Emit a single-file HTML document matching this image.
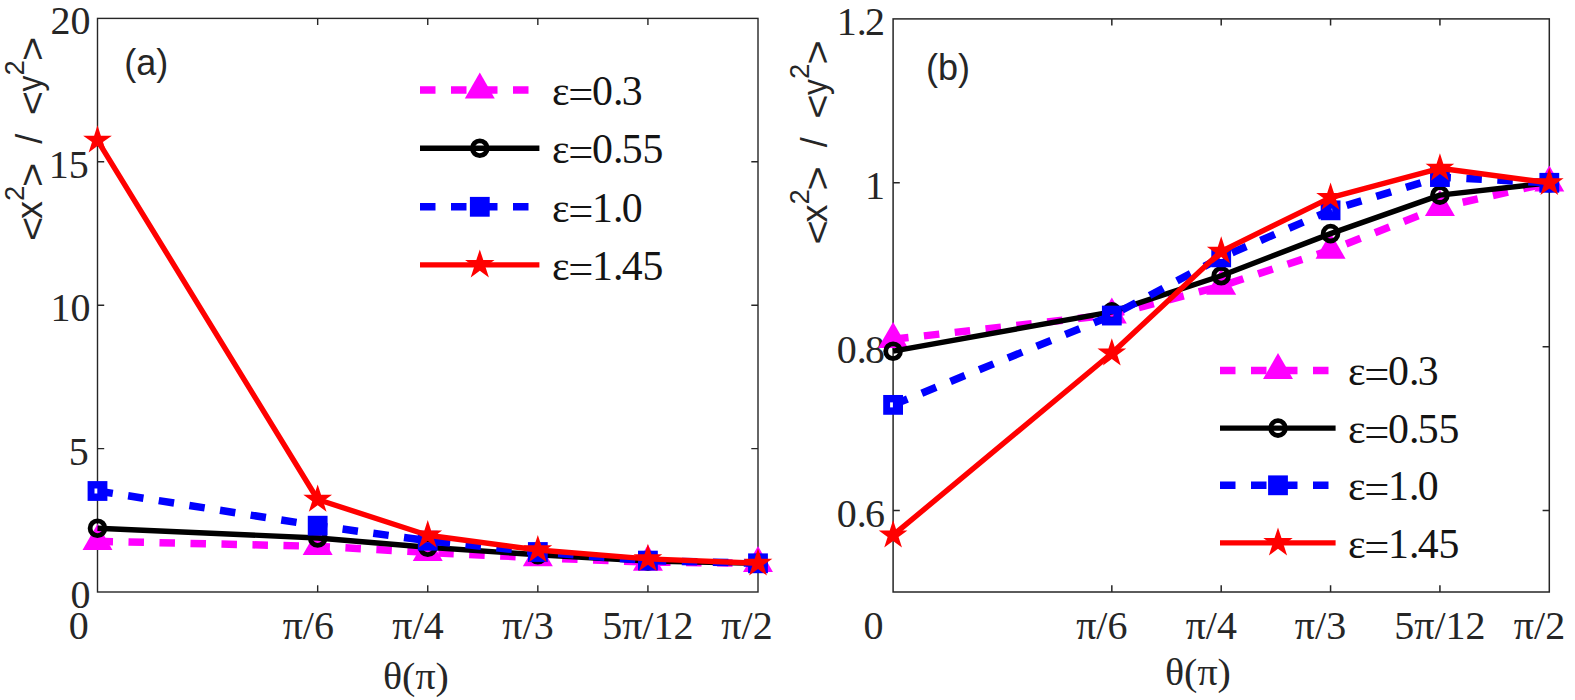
<!DOCTYPE html>
<html lang="en"><head><meta charset="utf-8"><title>Figure</title>
<style>html,body{margin:0;padding:0;background:#fff}svg{display:block}</style></head><body>
<svg width="1575" height="700" viewBox="0 0 1575 700">
<rect width="1575" height="700" fill="#ffffff"/>
<rect x="97.5" y="18.4" width="660.5" height="573.6" fill="none" stroke="#262626" stroke-width="1.4"/>
<path d="M317.67 592.0v-6.7M317.67 18.4v6.7" stroke="#262626" stroke-width="1.4" fill="none"/>
<path d="M427.75 592.0v-6.7M427.75 18.4v6.7" stroke="#262626" stroke-width="1.4" fill="none"/>
<path d="M537.83 592.0v-6.7M537.83 18.4v6.7" stroke="#262626" stroke-width="1.4" fill="none"/>
<path d="M647.92 592.0v-6.7M647.92 18.4v6.7" stroke="#262626" stroke-width="1.4" fill="none"/>
<path d="M97.5 448.60h6.7M758.0 448.60h-6.7" stroke="#262626" stroke-width="1.4" fill="none"/>
<path d="M97.5 305.20h6.7M758.0 305.20h-6.7" stroke="#262626" stroke-width="1.4" fill="none"/>
<path d="M97.5 161.80h6.7M758.0 161.80h-6.7" stroke="#262626" stroke-width="1.4" fill="none"/>
<text transform="translate(90.4,607.9) scale(1,1.02)" font-size="40" font-family="'Liberation Serif', serif" text-anchor="end" fill="#262626" >0</text>
<text transform="translate(88.8,464.5) scale(1,1.02)" font-size="40" font-family="'Liberation Serif', serif" text-anchor="end" fill="#262626" >5</text>
<text transform="translate(90.4,321.1) scale(1,1.02)" font-size="40" font-family="'Liberation Serif', serif" text-anchor="end" fill="#262626" >10</text>
<text transform="translate(88.8,177.7) scale(1,1.02)" font-size="40" font-family="'Liberation Serif', serif" text-anchor="end" fill="#262626" >15</text>
<text transform="translate(90.4,34.3) scale(1,1.02)" font-size="40" font-family="'Liberation Serif', serif" text-anchor="end" fill="#262626" >20</text>
<text transform="translate(78.8,638.7) scale(1,1.02)" font-size="40" font-family="'Liberation Serif', serif" text-anchor="middle" fill="#262626" >0</text>
<text transform="translate(308.3,638.7) scale(1,1.02)" font-size="40" font-family="'Liberation Serif', serif" text-anchor="middle" fill="#262626" >π/6</text>
<text transform="translate(418.0,638.7) scale(1,1.02)" font-size="40" font-family="'Liberation Serif', serif" text-anchor="middle" fill="#262626" >π/4</text>
<text transform="translate(528.0,638.7) scale(1,1.02)" font-size="40" font-family="'Liberation Serif', serif" text-anchor="middle" fill="#262626" >π/3</text>
<text transform="translate(647.8,638.7) scale(1,1.02)" font-size="40" font-family="'Liberation Serif', serif" text-anchor="middle" fill="#262626" >5π/12</text>
<text transform="translate(747.0,638.7) scale(1,1.02)" font-size="40" font-family="'Liberation Serif', serif" text-anchor="middle" fill="#262626" >π/2</text>
<text transform="translate(415.9,688.6) scale(1,0.97)" font-size="40" font-family="'Liberation Serif', serif" text-anchor="middle" fill="#262626" >θ(π)</text>
<text x="124.3" y="75" font-size="36" font-family="'Liberation Sans', sans-serif" text-anchor="start" fill="#262626" >(a)</text>
<g transform="translate(42.3,139.6) rotate(-90)" font-size="36" font-family="'Liberation Sans', sans-serif" fill="#262626">
<text transform="translate(-89.4,2.9) scale(1.15,1.05)" text-anchor="middle">&lt;</text>
<text x="-79.33" y="0">x</text>
<text x="-61.33" y="-18" font-size="27.5">2</text>
<text transform="translate(-35.4,2.9) scale(1.15,1.05)" text-anchor="middle">&gt;</text>
<text x="-4.15" y="0">/</text>
<text transform="translate(36.5,2.9) scale(1.15,1.05)" text-anchor="middle">&lt;</text>
<text transform="translate(48.1,0) scale(0.886,1)">y</text>
<text x="64.01" y="-18" font-size="27.5">2</text>
<text transform="translate(90.7,2.9) scale(1.15,1.05)" text-anchor="middle">&gt;</text>
</g>
<g>
<polyline points="97.50,541.30 317.67,546.30 427.75,552.40 537.83,557.70 647.92,562.10 758.00,563.30" fill="none" stroke="#ff00ff" stroke-width="7.5" stroke-dasharray="15.5 15.5" stroke-linejoin="round"/>
<polygon points="97.50,524.00 112.48,549.95 82.52,549.95" fill="#ff00ff"/>
<polygon points="317.67,529.00 332.65,554.95 302.68,554.95" fill="#ff00ff"/>
<polygon points="427.75,535.10 442.73,561.05 412.77,561.05" fill="#ff00ff"/>
<polygon points="537.83,540.40 552.82,566.35 522.85,566.35" fill="#ff00ff"/>
<polygon points="647.92,544.80 662.90,570.75 632.93,570.75" fill="#ff00ff"/>
<polygon points="758.00,546.00 772.98,571.95 743.02,571.95" fill="#ff00ff"/>
<polyline points="97.50,528.20 317.67,538.00 427.75,547.30 537.83,554.80 647.92,561.00 758.00,563.30" fill="none" stroke="#000000" stroke-width="5.4" stroke-linejoin="round"/>
<circle cx="97.50" cy="528.20" r="7.4" fill="none" stroke="#000000" stroke-width="4.8"/>
<circle cx="317.67" cy="538.00" r="7.4" fill="none" stroke="#000000" stroke-width="4.8"/>
<circle cx="427.75" cy="547.30" r="7.4" fill="none" stroke="#000000" stroke-width="4.8"/>
<circle cx="537.83" cy="554.80" r="7.4" fill="none" stroke="#000000" stroke-width="4.8"/>
<circle cx="647.92" cy="561.00" r="7.4" fill="none" stroke="#000000" stroke-width="4.8"/>
<circle cx="758.00" cy="563.30" r="7.4" fill="none" stroke="#000000" stroke-width="4.8"/>
<polyline points="97.50,491.00 317.67,525.70 427.75,540.70 537.83,552.00 647.92,560.60 758.00,563.30" fill="none" stroke="#0000ff" stroke-width="7.5" stroke-dasharray="15.5 15.5" stroke-linejoin="round"/>
<rect x="87.60" y="481.10" width="19.8" height="19.8" fill="#0000ff"/><rect x="94.50" y="488.50" width="2.8" height="5" fill="#fff"/>
<rect x="311.92" y="519.95" width="11.50" height="11.50" fill="none" stroke="#0000ff" stroke-width="8.3"/>
<rect x="422.00" y="534.95" width="11.50" height="11.50" fill="none" stroke="#0000ff" stroke-width="8.3"/>
<rect x="532.08" y="546.25" width="11.50" height="11.50" fill="none" stroke="#0000ff" stroke-width="8.3"/>
<rect x="642.17" y="554.85" width="11.50" height="11.50" fill="none" stroke="#0000ff" stroke-width="8.3"/>
<rect x="752.25" y="557.55" width="11.50" height="11.50" fill="none" stroke="#0000ff" stroke-width="8.3"/>
<polyline points="97.50,140.30 317.67,499.50 427.75,535.20 537.83,550.00 647.92,558.90 758.00,563.30" fill="none" stroke="#ff0000" stroke-width="5.4" stroke-linejoin="round"/>
<polygon points="97.50,125.20 100.89,135.63 111.86,135.63 102.99,142.08 106.38,152.52 97.50,146.07 88.62,152.52 92.01,142.08 83.14,135.63 94.11,135.63" fill="#ff0000"/>
<polygon points="317.67,484.40 321.06,494.83 332.03,494.83 323.15,501.28 326.54,511.72 317.67,505.27 308.79,511.72 312.18,501.28 303.31,494.83 314.28,494.83" fill="#ff0000"/>
<polygon points="427.75,520.10 431.14,530.53 442.11,530.53 433.24,536.98 436.63,547.42 427.75,540.97 418.87,547.42 422.26,536.98 413.39,530.53 424.36,530.53" fill="#ff0000"/>
<polygon points="537.83,534.90 541.22,545.33 552.19,545.33 543.32,551.78 546.71,562.22 537.83,555.77 528.96,562.22 532.35,551.78 523.47,545.33 534.44,545.33" fill="#ff0000"/>
<polygon points="647.92,543.80 651.31,554.23 662.28,554.23 653.40,560.68 656.79,571.12 647.92,564.67 639.04,571.12 642.43,560.68 633.56,554.23 644.53,554.23" fill="#ff0000"/>
<polygon points="758.00,548.20 761.39,558.63 772.36,558.63 763.49,565.08 766.88,575.52 758.00,569.07 749.12,575.52 752.51,565.08 743.64,558.63 754.61,558.63" fill="#ff0000"/>
</g>
<path d="M420 89.9H539.4" stroke="#ff00ff" stroke-width="7.5" stroke-dasharray="15.5 15.5"/>
<polygon points="479.80,72.60 494.78,98.55 464.82,98.55" fill="#ff00ff"/>
<text x="552.0" y="104.9" font-size="41.8" font-family="'Liberation Serif', serif" text-anchor="start" fill="#141414" >ε</text>
<text x="568.2" y="107.7" font-size="41.8" font-family="'Liberation Serif', serif" text-anchor="start" fill="#141414" textLength="25.1" lengthAdjust="spacingAndGlyphs">=</text>
<text x="592.1" y="104.9" font-size="41.8" font-family="'Liberation Serif', serif" text-anchor="start" fill="#141414" >0.<tspan dx="-1.8">3</tspan></text>
<path d="M420 148.2H539.4" stroke="#000000" stroke-width="5.4"/>
<circle cx="479.80" cy="148.20" r="7.4" fill="none" stroke="#000000" stroke-width="4.8"/>
<text x="552.0" y="163.2" font-size="41.8" font-family="'Liberation Serif', serif" text-anchor="start" fill="#141414" >ε</text>
<text x="568.2" y="166.0" font-size="41.8" font-family="'Liberation Serif', serif" text-anchor="start" fill="#141414" textLength="25.1" lengthAdjust="spacingAndGlyphs">=</text>
<text x="592.1" y="163.2" font-size="41.8" font-family="'Liberation Serif', serif" text-anchor="start" fill="#141414" >0.<tspan dx="-1.8">55</tspan></text>
<path d="M420 206.8H539.4" stroke="#0000ff" stroke-width="7.5" stroke-dasharray="15.5 15.5"/>
<rect x="469.90" y="196.90" width="19.8" height="19.8" fill="#0000ff"/>
<text x="552.0" y="221.8" font-size="41.8" font-family="'Liberation Serif', serif" text-anchor="start" fill="#141414" >ε</text>
<text x="568.2" y="224.6" font-size="41.8" font-family="'Liberation Serif', serif" text-anchor="start" fill="#141414" textLength="25.1" lengthAdjust="spacingAndGlyphs">=</text>
<text x="592.1" y="221.8" font-size="41.8" font-family="'Liberation Serif', serif" text-anchor="start" fill="#141414" >1.<tspan dx="-1.8">0</tspan></text>
<path d="M420 264.9H539.4" stroke="#ff0000" stroke-width="5.4"/>
<polygon points="479.80,249.40 483.28,260.11 494.54,260.11 485.43,266.73 488.91,277.44 479.80,270.82 470.69,277.44 474.17,266.73 465.06,260.11 476.32,260.11" fill="#ff0000"/>
<text x="552.0" y="279.9" font-size="41.8" font-family="'Liberation Serif', serif" text-anchor="start" fill="#141414" >ε</text>
<text x="568.2" y="282.7" font-size="41.8" font-family="'Liberation Serif', serif" text-anchor="start" fill="#141414" textLength="25.1" lengthAdjust="spacingAndGlyphs">=</text>
<text x="592.1" y="279.9" font-size="41.8" font-family="'Liberation Serif', serif" text-anchor="start" fill="#141414" >1.<tspan dx="-1.8">45</tspan></text>
<rect x="893.1" y="18.9" width="656.1999999999999" height="573.1" fill="none" stroke="#262626" stroke-width="1.5"/>
<path d="M1111.83 592.0v-6.7M1111.83 18.9v6.7" stroke="#262626" stroke-width="1.5" fill="none"/>
<path d="M1221.20 592.0v-6.7M1221.20 18.9v6.7" stroke="#262626" stroke-width="1.5" fill="none"/>
<path d="M1330.57 592.0v-6.7M1330.57 18.9v6.7" stroke="#262626" stroke-width="1.5" fill="none"/>
<path d="M1439.93 592.0v-6.7M1439.93 18.9v6.7" stroke="#262626" stroke-width="1.5" fill="none"/>
<path d="M893.1 510.60h6.7M1549.3 510.60h-6.7" stroke="#262626" stroke-width="1.5" fill="none"/>
<path d="M893.1 346.70h6.7M1549.3 346.70h-6.7" stroke="#262626" stroke-width="1.5" fill="none"/>
<path d="M893.1 182.80h6.7M1549.3 182.80h-6.7" stroke="#262626" stroke-width="1.5" fill="none"/>
<text transform="translate(885.0,526.5) scale(1,1.02)" font-size="40" font-family="'Liberation Serif', serif" text-anchor="end" fill="#262626" >0.<tspan dx="-1.7">6</tspan></text>
<text transform="translate(885.0,362.6) scale(1,1.02)" font-size="40" font-family="'Liberation Serif', serif" text-anchor="end" fill="#262626" >0.<tspan dx="-1.7">8</tspan></text>
<text transform="translate(885.0,198.7) scale(1,1.02)" font-size="40" font-family="'Liberation Serif', serif" text-anchor="end" fill="#262626" >1</text>
<text transform="translate(885.0,34.8) scale(1,1.02)" font-size="40" font-family="'Liberation Serif', serif" text-anchor="end" fill="#262626" >1.<tspan dx="-1.7">2</tspan></text>
<text transform="translate(873.6,638.7) scale(1,1.02)" font-size="40" font-family="'Liberation Serif', serif" text-anchor="middle" fill="#262626" >0</text>
<text transform="translate(1101.8,638.7) scale(1,1.02)" font-size="40" font-family="'Liberation Serif', serif" text-anchor="middle" fill="#262626" >π/6</text>
<text transform="translate(1211.3,638.7) scale(1,1.02)" font-size="40" font-family="'Liberation Serif', serif" text-anchor="middle" fill="#262626" >π/4</text>
<text transform="translate(1320.5,638.7) scale(1,1.02)" font-size="40" font-family="'Liberation Serif', serif" text-anchor="middle" fill="#262626" >π/3</text>
<text transform="translate(1439.9,638.7) scale(1,1.02)" font-size="40" font-family="'Liberation Serif', serif" text-anchor="middle" fill="#262626" >5π/12</text>
<text transform="translate(1539.5,638.7) scale(1,1.02)" font-size="40" font-family="'Liberation Serif', serif" text-anchor="middle" fill="#262626" >π/2</text>
<text transform="translate(1197.9,685.3) scale(1,0.97)" font-size="40" font-family="'Liberation Serif', serif" text-anchor="middle" fill="#262626" >θ(π)</text>
<text x="925.9" y="80.3" font-size="36" font-family="'Liberation Sans', sans-serif" text-anchor="start" fill="#262626" >(b)</text>
<g transform="translate(826.8,143.1) rotate(-90)" font-size="36" font-family="'Liberation Sans', sans-serif" fill="#262626">
<text transform="translate(-89.4,2.9) scale(1.15,1.05)" text-anchor="middle">&lt;</text>
<text x="-79.33" y="0">x</text>
<text x="-61.33" y="-18" font-size="27.5">2</text>
<text transform="translate(-35.4,2.9) scale(1.15,1.05)" text-anchor="middle">&gt;</text>
<text x="-4.15" y="0">/</text>
<text transform="translate(36.5,2.9) scale(1.15,1.05)" text-anchor="middle">&lt;</text>
<text transform="translate(48.1,0) scale(0.886,1)">y</text>
<text x="64.01" y="-18" font-size="27.5">2</text>
<text transform="translate(90.7,2.9) scale(1.15,1.05)" text-anchor="middle">&gt;</text>
</g>
<g>
<polyline points="893.10,339.32 1111.83,314.74 1221.20,286.06 1330.57,250.00 1439.93,207.39 1549.30,182.80" fill="none" stroke="#ff00ff" stroke-width="7.5" stroke-dasharray="15.5 15.5" stroke-linejoin="round"/>
<polygon points="893.10,322.02 908.08,347.97 878.12,347.97" fill="#ff00ff"/>
<polygon points="1111.83,297.44 1126.82,323.39 1096.85,323.39" fill="#ff00ff"/>
<polygon points="1221.20,268.76 1236.18,294.71 1206.22,294.71" fill="#ff00ff"/>
<polygon points="1330.57,232.70 1345.55,258.65 1315.58,258.65" fill="#ff00ff"/>
<polygon points="1439.93,190.09 1454.92,216.04 1424.95,216.04" fill="#ff00ff"/>
<polygon points="1549.30,165.50 1564.28,191.45 1534.32,191.45" fill="#ff00ff"/>
<polyline points="893.10,351.21 1111.83,311.87 1221.20,275.73 1330.57,233.61 1439.93,195.09 1549.30,182.80" fill="none" stroke="#000000" stroke-width="5.4" stroke-linejoin="round"/>
<circle cx="893.10" cy="351.21" r="7.4" fill="none" stroke="#000000" stroke-width="4.8"/>
<circle cx="1111.83" cy="311.87" r="7.4" fill="none" stroke="#000000" stroke-width="4.8"/>
<circle cx="1221.20" cy="275.73" r="7.4" fill="none" stroke="#000000" stroke-width="4.8"/>
<circle cx="1330.57" cy="233.61" r="7.4" fill="none" stroke="#000000" stroke-width="4.8"/>
<circle cx="1439.93" cy="195.09" r="7.4" fill="none" stroke="#000000" stroke-width="4.8"/>
<circle cx="1549.30" cy="182.80" r="7.4" fill="none" stroke="#000000" stroke-width="4.8"/>
<polyline points="893.10,404.88 1111.83,315.56 1221.20,257.37 1330.57,210.34 1439.93,177.06 1549.30,182.80" fill="none" stroke="#0000ff" stroke-width="7.5" stroke-dasharray="15.5 15.5" stroke-linejoin="round"/>
<rect x="883.20" y="394.98" width="19.8" height="19.8" fill="#0000ff"/><rect x="890.10" y="402.38" width="2.8" height="5" fill="#fff"/>
<rect x="1106.08" y="309.81" width="11.50" height="11.50" fill="none" stroke="#0000ff" stroke-width="8.3"/>
<rect x="1215.45" y="251.62" width="11.50" height="11.50" fill="none" stroke="#0000ff" stroke-width="8.3"/>
<rect x="1324.82" y="204.59" width="11.50" height="11.50" fill="none" stroke="#0000ff" stroke-width="8.3"/>
<rect x="1434.18" y="171.31" width="11.50" height="11.50" fill="none" stroke="#0000ff" stroke-width="8.3"/>
<rect x="1543.55" y="177.05" width="11.50" height="11.50" fill="none" stroke="#0000ff" stroke-width="8.3"/>
<polyline points="893.10,535.19 1111.83,353.26 1221.20,251.31 1330.57,197.55 1439.93,168.29 1549.30,182.80" fill="none" stroke="#ff0000" stroke-width="5.4" stroke-linejoin="round"/>
<polygon points="893.10,520.09 896.49,530.52 907.46,530.52 898.59,536.97 901.98,547.40 893.10,540.95 884.22,547.40 887.61,536.97 878.74,530.52 889.71,530.52" fill="#ff0000"/>
<polygon points="1111.83,338.16 1115.22,348.59 1126.19,348.59 1117.32,355.04 1120.71,365.47 1111.83,359.02 1102.96,365.47 1106.35,355.04 1097.47,348.59 1108.44,348.59" fill="#ff0000"/>
<polygon points="1221.20,236.21 1224.59,246.64 1235.56,246.64 1226.69,253.09 1230.08,263.53 1221.20,257.08 1212.32,263.53 1215.71,253.09 1206.84,246.64 1217.81,246.64" fill="#ff0000"/>
<polygon points="1330.57,182.45 1333.96,192.88 1344.93,192.88 1336.05,199.33 1339.44,209.77 1330.57,203.32 1321.69,209.77 1325.08,199.33 1316.21,192.88 1327.18,192.88" fill="#ff0000"/>
<polygon points="1439.93,153.19 1443.32,163.63 1454.29,163.63 1445.42,170.08 1448.81,180.51 1439.93,174.06 1431.06,180.51 1434.45,170.08 1425.57,163.63 1436.54,163.63" fill="#ff0000"/>
<polygon points="1549.30,167.70 1552.69,178.13 1563.66,178.13 1554.79,184.58 1558.18,195.02 1549.30,188.57 1540.42,195.02 1543.81,184.58 1534.94,178.13 1545.91,178.13" fill="#ff0000"/>
</g>
<path d="M1220 370.4H1335.6" stroke="#ff00ff" stroke-width="7.5" stroke-dasharray="15.5 15.5"/>
<polygon points="1278.00,353.10 1292.98,379.05 1263.02,379.05" fill="#ff00ff"/>
<text x="1348.0" y="385.2" font-size="41.8" font-family="'Liberation Serif', serif" text-anchor="start" fill="#141414" >ε</text>
<text x="1364.2" y="388.0" font-size="41.8" font-family="'Liberation Serif', serif" text-anchor="start" fill="#141414" textLength="25.1" lengthAdjust="spacingAndGlyphs">=</text>
<text x="1388.1" y="385.2" font-size="41.8" font-family="'Liberation Serif', serif" text-anchor="start" fill="#141414" >0.<tspan dx="-1.8">3</tspan></text>
<path d="M1220 428.1H1335.6" stroke="#000000" stroke-width="5.4"/>
<circle cx="1278.00" cy="428.10" r="7.4" fill="none" stroke="#000000" stroke-width="4.8"/>
<text x="1348.0" y="442.9" font-size="41.8" font-family="'Liberation Serif', serif" text-anchor="start" fill="#141414" >ε</text>
<text x="1364.2" y="445.7" font-size="41.8" font-family="'Liberation Serif', serif" text-anchor="start" fill="#141414" textLength="25.1" lengthAdjust="spacingAndGlyphs">=</text>
<text x="1388.1" y="442.9" font-size="41.8" font-family="'Liberation Serif', serif" text-anchor="start" fill="#141414" >0.<tspan dx="-1.8">55</tspan></text>
<path d="M1220 485.3H1335.6" stroke="#0000ff" stroke-width="7.5" stroke-dasharray="15.5 15.5"/>
<rect x="1268.10" y="475.40" width="19.8" height="19.8" fill="#0000ff"/>
<text x="1348.0" y="500.1" font-size="41.8" font-family="'Liberation Serif', serif" text-anchor="start" fill="#141414" >ε</text>
<text x="1364.2" y="502.9" font-size="41.8" font-family="'Liberation Serif', serif" text-anchor="start" fill="#141414" textLength="25.1" lengthAdjust="spacingAndGlyphs">=</text>
<text x="1388.1" y="500.1" font-size="41.8" font-family="'Liberation Serif', serif" text-anchor="start" fill="#141414" >1.<tspan dx="-1.8">0</tspan></text>
<path d="M1220 542.9H1335.6" stroke="#ff0000" stroke-width="5.4"/>
<polygon points="1278.00,527.40 1281.48,538.11 1292.74,538.11 1283.63,544.73 1287.11,555.44 1278.00,548.82 1268.89,555.44 1272.37,544.73 1263.26,538.11 1274.52,538.11" fill="#ff0000"/>
<text x="1348.0" y="557.7" font-size="41.8" font-family="'Liberation Serif', serif" text-anchor="start" fill="#141414" >ε</text>
<text x="1364.2" y="560.5" font-size="41.8" font-family="'Liberation Serif', serif" text-anchor="start" fill="#141414" textLength="25.1" lengthAdjust="spacingAndGlyphs">=</text>
<text x="1388.1" y="557.7" font-size="41.8" font-family="'Liberation Serif', serif" text-anchor="start" fill="#141414" >1.<tspan dx="-1.8">45</tspan></text>
</svg></body></html>
